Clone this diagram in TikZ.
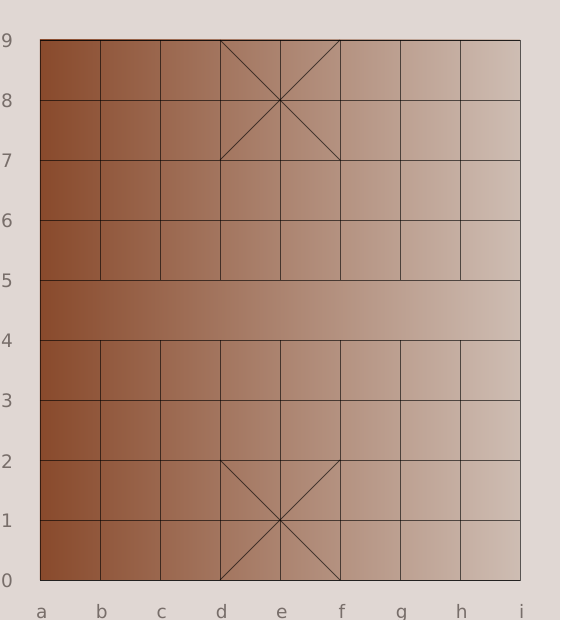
\documentclass[tikz,border=0pt]{standalone}
\usepackage{fontspec}
\setmainfont{DejaVu Sans}
\usetikzlibrary{positioning}
\definecolor{bg}{HTML}{E0D7D3}
\definecolor{woodL}{HTML}{894A2C}
\definecolor{woodR}{HTML}{CEBDB3}
\definecolor{labelgray}{HTML}{786E6A}

\begin{document}
\begin{tikzpicture}[x=1cm, y=1cm,
  gridline/.style={black, opacity=0.6, line width=0.45pt},
  palace/.style={black, opacity=0.6, line width=0.4pt},
  coordlabel/.style={font=\fontsize{8.8pt}{10pt}\selectfont, text=labelgray, inner sep=0pt}
]
  % page and board
  \fill[bg] (-2/3,-2/3) rectangle (8+2/3,9+2/3);
  \useasboundingbox (-2/3,-2/3) rectangle (8+2/3,9+2/3);
  \shade[left color=woodL, right color=woodR] (0,0) rectangle (8,9);

  \foreach \y in {0,...,9}
    \draw[gridline] (0,\y) -- (8,\y);
  \foreach \x in {1,...,7} {
    \draw[gridline] (\x,0) -- (\x,4);
    \draw[gridline] (\x,5) -- (\x,9);
  }
  \draw[gridline] (0,0) rectangle (8,9);

  % palaces
  \draw[palace] (3,0) -- (5,2) (5,0) -- (3,2);
  \draw[palace] (3,7) -- (5,9) (5,7) -- (3,9);

  % labels
  \foreach \y in {0,...,9}
    \node[coordlabel] (rank\y) at (-0.55,\y-0.02) {\y};
  \foreach \x/\f in {0/a,1/b,2/c,3/d,4/e,5/f,6/g,7/h,8/i}
    \node[coordlabel, anchor=base] (file\f) at (\x+0.03,-0.64) {\f};
\end{tikzpicture}
\end{document}
